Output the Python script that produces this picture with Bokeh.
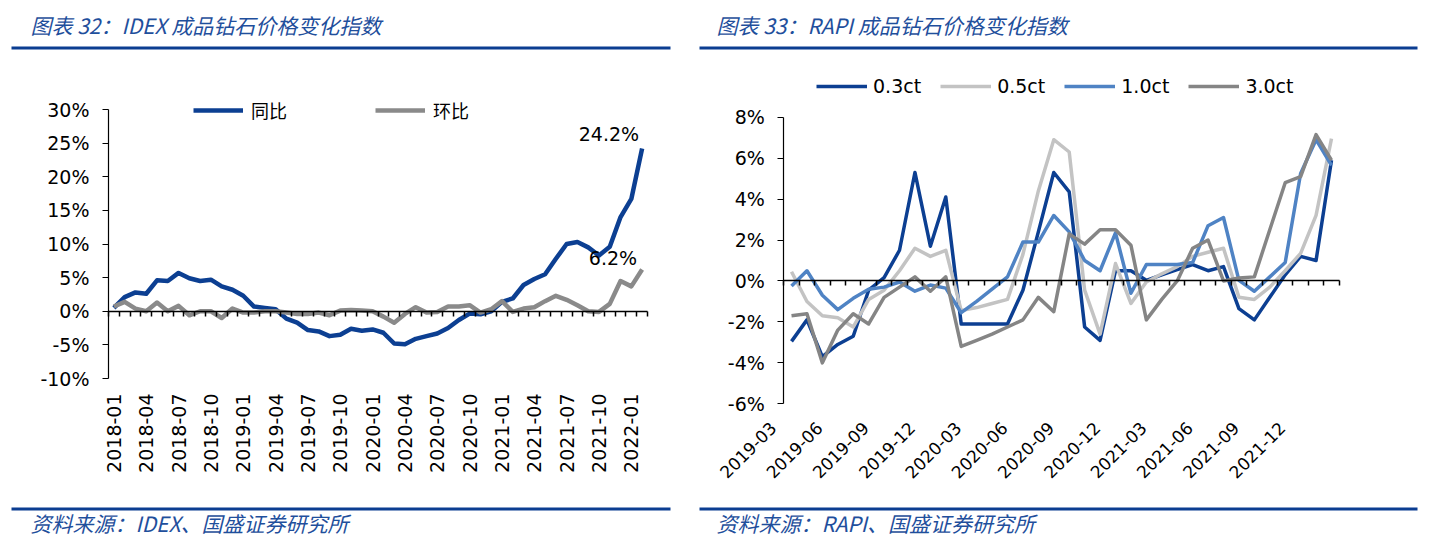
from bokeh.plotting import figure
from bokeh.models import (Range1d, LinearAxis, FixedTicker, PrintfTickFormatter, Label,
                          BoxAnnotation, Legend, LegendItem, ColumnDataSource, Grid)
from bokeh.layouts import row
from bokeh.embed import file_html
from bokeh.resources import INLINE

# ---------------- data: IDEX ----------------
idex_months = ["2018-01","2018-02","2018-03","2018-04","2018-05","2018-06","2018-07","2018-08","2018-09","2018-10",
               "2018-11","2018-12","2019-01","2019-02","2019-03","2019-04","2019-05","2019-06","2019-07","2019-08",
               "2019-09","2019-10","2019-11","2019-12","2020-01","2020-02","2020-03","2020-04","2020-05","2020-06",
               "2020-07","2020-08","2020-09","2020-10","2020-11","2020-12","2021-01","2021-02","2021-03","2021-04",
               "2021-05","2021-06","2021-07","2021-08","2021-09","2021-10","2021-11","2021-12","2022-01","2022-02"]
idex_yoy = [0.5, 2.1, 2.8, 2.6, 4.6, 4.5, 5.7, 4.9, 4.5, 4.7, 3.7, 3.2, 2.3, 0.7, 0.5, 0.3, -1.1, -1.7, -2.8, -3.0,
            -3.7, -3.5, -2.6, -2.9, -2.7, -3.2, -4.8, -4.9, -4.1, -3.7, -3.3, -2.5, -1.3, -0.35, -0.45, 0.0, 1.4, 1.9, 3.9, 4.8,
            5.5, 7.8, 10.0, 10.3, 9.5, 8.3, 9.6, 14.0, 16.7, 24.2]
idex_mom = [0.7, 1.4, 0.4, 0.0, 1.3, 0.0, 0.8, -0.6, 0.0, 0.0, -1.0, 0.4, -0.2, -0.2, 0.0, 0.0, -0.2, -0.4, -0.4, -0.2,
            -0.6, 0.1, 0.2, 0.1, 0.0, -0.8, -1.7, -0.4, 0.6, -0.2, -0.1, 0.7, 0.7, 0.9, -0.2, 0.3, 1.5, -0.1, 0.4, 0.6,
            1.5, 2.3, 1.7, 0.9, 0.0, -0.1, 1.1, 4.5, 3.7, 6.2]
idex_labels = ["2018-01","2018-04","2018-07","2018-10","2019-01","2019-04","2019-07","2019-10","2020-01",
               "2020-04","2020-07","2020-10","2021-01","2021-04","2021-07","2021-10","2022-01"]
idex_yticks = [-10, -5, 0, 5, 10, 15, 20, 25, 30]

# ---------------- data: RAPI ----------------
rapi_months = ["2019-03","2019-04","2019-05","2019-06","2019-07","2019-08","2019-09","2019-10","2019-11","2019-12",
               "2020-01","2020-02","2020-03","2020-04","2020-05","2020-06","2020-07","2020-08","2020-09","2020-10",
               "2020-11","2020-12","2021-01","2021-02","2021-03","2021-04","2021-05","2021-06","2021-07","2021-08",
               "2021-09","2021-10","2021-11","2021-12","2022-01","2022-02"]
rapi_03 = [-2.95, -1.9, -3.7, -3.1, -2.7, -0.45, 0.16, 1.5, 5.3, 1.7, 4.1, -2.1, -2.1, -2.1, -2.1, -0.45, 2.4, 5.3,
           4.35, -2.25, -2.9, 0.5, 0.5, 0.03, 0.3, 0.55, 0.8, 0.5, 0.7, -1.35, -1.9, -0.8, 0.3, 1.2, 1.0, 5.9]
rapi_05 = [0.45, -1.0, -1.7, -1.8, -2.25, -0.9, -0.45, 0.5, 1.6, 1.2, 1.5, -1.45, -1.3, -1.1, -0.9, 1.3, 4.4, 6.9,
           6.3, -0.45, -2.6, 0.85, -1.1, -0.05, 0.35, 0.7, 1.2, 1.4, 1.6, -0.8, -0.9, -0.3, 0.5, 1.35, 3.2, 6.95]
rapi_10 = [-0.25, 0.5, -0.7, -1.4, -0.85, -0.4, -0.3, -0.05, -0.5, -0.2, -0.35, -1.55, -1.0, -0.4, 0.2, 1.9, 1.9, 3.2,
           2.4, 1.0, 0.5, 2.35, -0.6, 0.8, 0.8, 0.8, 0.9, 2.7, 3.1, 0.03, -0.5, 0.2, 0.9, 5.25, 6.9, 5.65]
rapi_30 = [-1.7, -1.6, -4.0, -2.4, -1.6, -2.1, -0.8, -0.3, 0.2, -0.5, 0.2, -3.2, -2.9, -2.6, -2.25, -1.9, -0.8, -1.5,
           2.3, 1.8, 2.5, 2.5, 1.75, -1.9, -0.9, 0.0, 1.6, 2.0, 0.0, 0.15, 0.2, 2.5, 4.8, 5.1, 7.15, 5.9]
rapi_series = ["0.3ct", "0.5ct", "1.0ct", "3.0ct"]
rapi_labels = ["2019-03","2019-06","2019-09","2019-12","2020-03","2020-06","2020-09","2020-12",
               "2021-03","2021-06","2021-09","2021-12"]
rapi_yticks = [-6, -4, -2, 0, 2, 4, 6, 8]

# ---------------- styles ----------------
NUM_FONT = "DejaVu Sans"
CJK_FONT = "Noto Sans CJK SC"
RULE = "#0b3d91"
TITLE_C = "#1f4f9c"
H = 543


def make_fig(W, plot_box, xlim, ylim):
    """Frame = whole canvas; ranges chosen so that data box xlim/ylim lands on plot_box (l, r, t, b) px."""
    l, r, t, b = plot_box
    sx = (r - l) / (xlim[1] - xlim[0])
    sy = (b - t) / (ylim[1] - ylim[0])
    xr = Range1d(xlim[0] - l / sx, xlim[1] + (W - r) / sx)
    yr = Range1d(ylim[0] - (H - b) / sy, ylim[1] + t / sy)
    p = figure(width=W, height=H, output_backend="svg", toolbar_location=None,
               x_range=xr, y_range=yr, x_axis_location=None, y_axis_location=None,
               min_border=0)
    p.title.visible = False
    p.outline_line_color = None
    p.background_fill_color = "white"
    p.border_fill_color = "white"
    p.center = [c for c in p.center if not isinstance(c, Grid)]
    return p


def add_axes(p, months, labels, yticks, label_orientation, label_standoff, label_shift, label_size):
    n = len(months)
    ymin, ymax = yticks[0], yticks[-1]
    yax = LinearAxis(fixed_location=0, bounds=(ymin, ymax), ticker=FixedTicker(ticks=yticks),
                     formatter=PrintfTickFormatter(format="%d%%"),
                     major_label_text_font=NUM_FONT, major_label_text_font_size="19px",
                     major_label_text_color="black", axis_line_color="black", axis_line_width=1.2,
                     major_tick_line_color="black", major_tick_line_width=1.2,
                     major_tick_out=6, major_tick_in=0, minor_tick_out=0, minor_tick_in=0,
                     major_label_standoff=13)
    p.add_layout(yax, "left")
    pos = {m: i + 0.5 + label_shift for i, m in enumerate(months)}
    lab_ax = LinearAxis(fixed_location=ymin, ticker=FixedTicker(ticks=[pos[l] for l in labels]),
                        major_label_overrides={pos[l]: l for l in labels},
                        major_label_orientation=label_orientation,
                        major_label_text_font=NUM_FONT, major_label_text_font_size=label_size,
                        major_label_text_color="black", major_label_standoff=label_standoff,
                        axis_line_color=None, major_tick_out=0, major_tick_in=0,
                        minor_tick_out=0, minor_tick_in=0)
    p.add_layout(lab_ax, "below")
    zero_ax = LinearAxis(fixed_location=0, bounds=(0, n),
                         ticker=FixedTicker(ticks=[], minor_ticks=list(range(0, n + 1))),
                         axis_line_color="black", axis_line_width=1.5,
                         minor_tick_line_color="black", minor_tick_line_width=1.5,
                         minor_tick_out=5, minor_tick_in=0, major_tick_out=0, major_tick_in=0)
    p.add_layout(zero_ax, "below")


def add_page_text(p, title, source, rule_l, rule_r, text_x):
    # screen units: x from the left edge, y up from the bottom edge of the (full-canvas) frame
    p.add_layout(Label(x=text_x, y=H - 24, x_units="screen", y_units="screen", text=title,
                       text_font=CJK_FONT, text_font_style="italic", text_font_size="21px",
                       text_color=TITLE_C, text_baseline="middle"))
    p.add_layout(Label(x=text_x, y=H - 522, x_units="screen", y_units="screen", text=source,
                       text_font=CJK_FONT, text_font_style="italic", text_font_size="21px",
                       text_color=TITLE_C, text_baseline="middle"))
    for top in (46, 507):
        p.add_layout(BoxAnnotation(left=rule_l, right=rule_r, top=H - top, bottom=H - top - 3,
                                   left_units="screen", right_units="screen", top_units="screen",
                                   bottom_units="screen", fill_color=RULE, fill_alpha=1.0,
                                   line_color=None, line_alpha=0))


# ================= left chart =================
n1 = len(idex_months)
src1 = ColumnDataSource(dict(x=[i + 0.5 for i in range(n1)], yoy=idex_yoy, mom=idex_mom))
p1 = make_fig(690, (108, 647, 109, 378), (0, n1), (idex_yticks[0], idex_yticks[-1]))
add_axes(p1, idex_months, idex_labels, idex_yticks, 1.5707963267948966, 15, 0.0, "19px")
r_yoy = p1.line("x", "yoy", source=src1, line_color="#0c3f92", line_width=4.5, line_join="round")
r_mom = p1.line("x", "mom", source=src1, line_color="#8a8a8a", line_width=4.5, line_join="round")
leg1 = Legend(items=[LegendItem(label="同比", renderers=[r_yoy]), LegendItem(label="环比", renderers=[r_mom])],
              orientation="horizontal", location=(193, H - 112 - 11), glyph_width=50, glyph_height=20,
              label_standoff=8, spacing=88, padding=0, margin=0, border_line_color=None,
              background_fill_alpha=0, label_text_font=CJK_FONT, label_text_font_size="18px",
              label_text_color="black")
p1.add_layout(leg1)
p1.add_layout(Label(x=n1 - 0.5, y=idex_yoy[-1], text=f"{idex_yoy[-1]:.1f}%", text_align="right",
                    text_baseline="bottom", x_offset=-3, y_offset=4, text_font=NUM_FONT,
                    text_font_size="19px", text_color="black"))
p1.add_layout(Label(x=n1 - 0.5, y=idex_mom[-1], text=f"{idex_mom[-1]:.1f}%", text_align="right",
                    text_baseline="bottom", x_offset=-5, y_offset=1, text_font=NUM_FONT,
                    text_font_size="19px", text_color="black"))
add_page_text(p1, "图表 32：IDEX 成品钻石价格变化指数", "资料来源：IDEX、国盛证券研究所", 11, 670, 30)

# ================= right chart =================
n2 = len(rapi_months)
src2 = ColumnDataSource(dict(x=[i + 0.5 for i in range(n2)], a=rapi_03, b=rapi_05, c=rapi_10, d=rapi_30))
p2 = make_fig(739, (93.3, 648.7, 116.7, 403.3), (0, n2), (rapi_yticks[0], rapi_yticks[-1]))
add_axes(p2, rapi_months, rapi_labels, rapi_yticks, 0.7853981633974483, 21, -1.2, "17px")
cols = ["#0c3f92", "#c3c3c3", "#4f83c4", "#858585"]
rs = []
for key, c in zip(["a", "b", "c", "d"], cols):
    rs.append(p2.line("x", key, source=src2, line_color=c, line_width=3.5, line_join="round"))
leg2 = Legend(items=[LegendItem(label=s, renderers=[r]) for s, r in zip(rapi_series, rs)],
              orientation="horizontal", location=(816 - 690, H - 86 - 11), glyph_width=51, glyph_height=20,
              label_standoff=6, spacing=19, padding=0, margin=0, border_line_color=None,
              background_fill_alpha=0, label_text_font=NUM_FONT, label_text_font_size="19px",
              label_text_color="black")
p2.add_layout(leg2)
add_page_text(p2, "图表 33：RAPI 成品钻石价格变化指数", "资料来源：RAPI、国盛证券研究所", 9, 727, 26)

layout = row(p1, p2)
open("out.html", "w").write(file_html(layout, INLINE))
